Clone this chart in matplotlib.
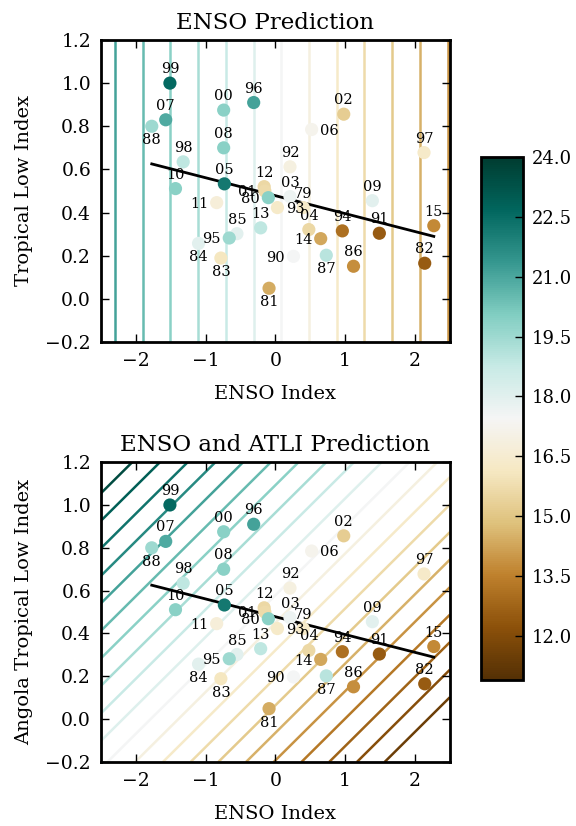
import numpy as np
import matplotlib
matplotlib.use("Agg")
import matplotlib.pyplot as plt
from matplotlib.colors import Normalize
from matplotlib.ticker import FuncFormatter

plt.rcParams['font.family'] = ['DejaVu Serif']
plt.rcParams['mathtext.fontset'] = 'dejavuserif'

# year labels, ENSO index, tropical low index, colour value
years = ['99', '96', '00', '07', '88', '02', '06', '08', '98', '97', '92', '05',
         '10', '12', '01', '80', '03', '79', '93', '11', '09', '15', '94', '91',
         '04', '14', '13', '85', '95', '84', '83', '90', '87', '86', '82', '81']
enso = [-1.51, -0.31, -0.74, -1.57, -1.77, 0.98, 0.52, -0.74, -1.32, 2.13, 0.21, -0.73,
        -1.43, -0.16, -0.15, -0.10, 0.21, 0.40, 0.03, -0.84, 1.39, 2.27, 0.96, 1.49,
        0.48, 0.65, -0.21, -0.55, -0.66, -1.10, -0.78, 0.26, 0.73, 1.12, 2.14, -0.09]
atli = [1.00, 0.91, 0.875, 0.83, 0.80, 0.856, 0.785, 0.70, 0.635, 0.678, 0.612, 0.533,
        0.511, 0.52, 0.50, 0.469, 0.474, 0.423, 0.423, 0.446, 0.455, 0.339, 0.315, 0.304,
        0.321, 0.279, 0.329, 0.302, 0.282, 0.257, 0.189, 0.197, 0.202, 0.151, 0.165, 0.049]
value = [22.6, 21.1, 19.9, 20.9, 19.5, 15.2, 17.2, 19.9, 18.9, 16.3, 16.9, 22.2,
         19.9, 15.6, 15.7, 19.9, 17.7, 16.3, 16.3, 16.7, 18.0, 13.7, 13.1, 12.5,
         15.6, 14.3, 18.9, 18.0, 19.5, 18.0, 16.1, 17.5, 19.0, 13.8, 12.5, 14.4]
# label placement: a = above, b = below, l = left, r = right
label_pos = ['a', 'a', 'a', 'a', 'b', 'a', 'r', 'a', 'a', 'a', 'a', 'a',
             'a', 'a', 'l', 'l', 'a', 'a', 'r', 'l', 'a', 'a', 'a', 'a',
             'a', 'l', 'a', 'a', 'l', 'b', 'b', 'l', 'b', 'a', 'a', 'b']

# prediction planes
enso_fit = [17.63, -1.511]            # intercept, ENSO coefficient
enso_atli_fit = [14.8, -1.511, 4.67]  # intercept, ENSO, ATLI coefficients
levels = np.linspace(11.5, 23.5, 21)
vmin, vmax = 10.9, 24.0

enso = np.array(enso)
atli = np.array(atli)
slope, icpt = np.polyfit(enso, atli, 1)

norm = Normalize(vmin=vmin, vmax=vmax)
cmap = 'BrBG'
fmt = FuncFormatter(lambda v, p: ('%.1f' % v).replace('-', '\u2212'))
fmt_int = FuncFormatter(lambda v, p: ('%d' % round(v)).replace('-', '\u2212'))

fig = plt.figure(figsize=(5.76, 8.26), dpi=100)
ax1 = fig.add_axes([0.175, 0.586, 0.606, 0.3656])
ax2 = fig.add_axes([0.175, 0.0775, 0.606, 0.363])
cax = fig.add_axes([0.835, 0.177, 0.073, 0.633])

E, A = np.meshgrid(np.linspace(-2.5, 2.5, 300), np.linspace(-0.2, 1.2, 300))
Z1 = enso_fit[0] + enso_fit[1] * E
Z2 = enso_atli_fit[0] + enso_atli_fit[1] * E + enso_atli_fit[2] * A

offsets = {'a': ((0, 5), 'center', 'bottom'),
           'b': ((0, -5), 'center', 'top'),
           'l': ((-6, -1), 'right', 'center'),
           'r': ((6, -1), 'left', 'center')}

for ax, Z, title, ylab in [(ax1, Z1, 'ENSO Prediction', 'Tropical Low Index'),
                           (ax2, Z2, 'ENSO and ATLI Prediction', 'Angola Tropical Low Index')]:
    ax.contour(E, A, Z, levels=levels, cmap=cmap, norm=norm, linewidths=1.8, zorder=1)
    xl = np.array([enso.min(), enso.max()])
    ax.plot(xl, icpt + slope * xl, color='black', lw=2, zorder=2)
    sc = ax.scatter(enso, atli, c=value, cmap=cmap, norm=norm, s=90,
                    edgecolors='none', zorder=3)
    for yr, x, y, p in zip(years, enso, atli, label_pos):
        off, ha, va = offsets[p]
        ax.annotate(yr, (x, y), xytext=off, textcoords='offset points',
                    ha=ha, va=va, fontsize=10.5, zorder=4)
    ax.set_xlim(-2.5, 2.5)
    ax.set_ylim(-0.2, 1.2)
    ax.set_xticks([-2, -1, 0, 1, 2])
    ax.set_yticks(np.arange(-0.2, 1.21, 0.2))
    ax.xaxis.set_major_formatter(fmt_int)
    ax.yaxis.set_major_formatter(fmt)
    ax.tick_params(direction='in', top=True, right=True, length=6, width=1,
                   labelsize=13.5, pad=7)
    for s in ax.spines.values():
        s.set_linewidth(2)
    ax.set_title(title, fontsize=16.5, pad=8)
    ax.set_xlabel('ENSO Index', fontsize=14, labelpad=11)
    ax.set_ylabel(ylab, fontsize=14, labelpad=9)

cb = fig.colorbar(sc, cax=cax)
cb.set_ticks(np.arange(12, 24.1, 1.5))
cb.ax.yaxis.set_major_formatter(fmt)
cb.ax.tick_params(direction='in', length=6, width=1, labelsize=13, pad=6)
cb.outline.set_linewidth(2)

fig.savefig('out.png', dpi=100)
